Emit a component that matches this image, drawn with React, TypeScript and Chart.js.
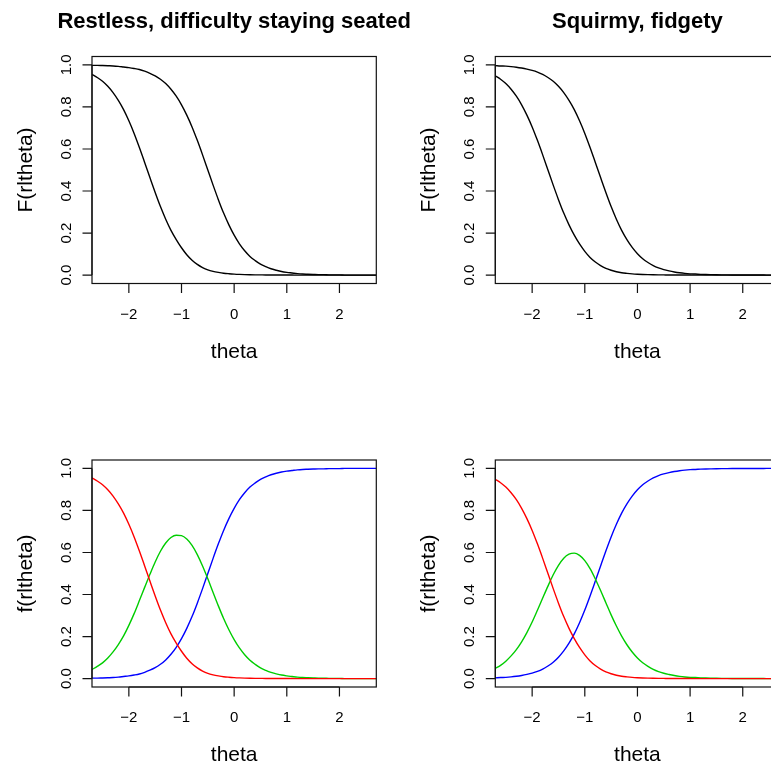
import React, { useEffect, useRef } from "react";
import { Chart, registerables } from "chart.js";

Chart.register(...registerables);

// theta grid (x values)
const theta = [
  -2.7, -2.6, -2.5, -2.4, -2.3, -2.2, -2.1, -2.0, -1.9, -1.8, -1.7, -1.6, -1.5, -1.4,
  -1.3, -1.2, -1.1, -1.0, -0.9, -0.8, -0.7, -0.6, -0.5, -0.4, -0.3, -0.2, -0.1, 0.0,
  0.1, 0.2, 0.3, 0.4, 0.5, 0.6, 0.7, 0.8, 0.9, 1.0, 1.1, 1.2, 1.3, 1.4, 1.5, 1.6,
  1.7, 1.8, 1.9, 2.0, 2.1, 2.2, 2.3, 2.4, 2.5, 2.6, 2.7,
];

// "Restless, difficulty staying seated": cumulative curves F(r|theta)
const restlessF0 = [
  0.955, 0.94, 0.922, 0.898, 0.868, 0.831, 0.787, 0.734, 0.674, 0.607, 0.536, 0.464, 0.393, 0.326,
  0.266, 0.213, 0.169, 0.13, 0.097, 0.071, 0.051, 0.036, 0.025, 0.018, 0.013, 0.009, 0.0065, 0.0046,
  0.0033, 0.0024, 0.0017, 0.0012, 0.0009, 0.0006, 0.0004, 0.0003, 0.0002, 0.0001, 0.0001, 0, 0, 0, 0, 0,
  0, 0, 0, 0, 0, 0, 0, 0, 0, 0, 0,
];
const restlessF1 = [
  0.998, 0.998, 0.997, 0.996, 0.995, 0.993, 0.99, 0.987, 0.983, 0.978, 0.97, 0.96, 0.948, 0.932,
  0.911, 0.884, 0.851, 0.81, 0.761, 0.705, 0.641, 0.572, 0.5, 0.428, 0.359, 0.295, 0.239, 0.19,
  0.149, 0.116, 0.089, 0.069, 0.052, 0.04, 0.03, 0.023, 0.017, 0.013, 0.01, 0.007, 0.005, 0.004, 0.003, 0.002,
  0.002, 0.001, 0.001, 0.001, 0, 0, 0, 0, 0, 0, 0,
];

// "Squirmy, fidgety": cumulative curves F(r|theta)
const squirmyF0 = [
  0.948, 0.932, 0.911, 0.884, 0.851, 0.81, 0.761, 0.705, 0.641, 0.572, 0.5, 0.428, 0.359, 0.295,
  0.239, 0.19, 0.148, 0.113, 0.084, 0.062, 0.045, 0.032, 0.023, 0.016, 0.011, 0.008, 0.0056, 0.004,
  0.0029, 0.0021, 0.0015, 0.0011, 0.0008, 0.0005, 0.0004, 0.0003, 0.0002, 0.0001, 0, 0, 0, 0, 0, 0,
  0, 0, 0, 0, 0, 0, 0, 0, 0, 0, 0,
];
const squirmyF1 = [
  0.9965, 0.995, 0.994, 0.992, 0.989, 0.985, 0.98, 0.974, 0.966, 0.955, 0.94, 0.922, 0.898, 0.868,
  0.831, 0.787, 0.734, 0.674, 0.607, 0.536, 0.464, 0.393, 0.326, 0.266, 0.213, 0.169, 0.132, 0.102,
  0.078, 0.06, 0.045, 0.034, 0.026, 0.02, 0.015, 0.011, 0.008, 0.006, 0.005, 0.0035, 0.0026, 0.002, 0.0015, 0.0011,
  0.0008, 0.0006, 0.0004, 0.0003, 0.0002, 0.0002, 0.0001, 0.0001, 0, 0, 0,
];

const xTicks = [-2, -1, 0, 1, 2];
const xTickLabels = ["\u22122", "\u22121", "0", "1", "2"];
const yTicks = [0, 0.2, 0.4, 0.6, 0.8, 1.0];
const yTickLabels = ["0.0", "0.2", "0.4", "0.6", "0.8", "1.0"];

const titles = ["Restless, difficulty staying seated", "Squirmy, fidgety"];
const xLabel = "theta";
const yLabelTop = "F(rltheta)";
const yLabelBottom = "f(rltheta)";

const FONT = "'Liberation Sans', Arial, Helvetica, sans-serif";
const CW = 800;
const CH = 768;

const rAxesPlugin = {
  id: "rAxes",
  afterDraw(chart: any, _args: any, opts: any) {
    const { ctx, chartArea, scales } = chart;
    const { left, right, top, bottom } = chartArea;
    const x = scales.x;
    const y = scales.y;
    ctx.save();
    ctx.strokeStyle = "#111";
    ctx.lineWidth = 1.2;
    ctx.strokeRect(left, top, right - left, bottom - top);

    // x axis
    ctx.beginPath();
    ctx.moveTo(x.getPixelForValue(xTicks[0]), bottom);
    ctx.lineTo(x.getPixelForValue(xTicks[xTicks.length - 1]), bottom);
    xTicks.forEach((t) => {
      const px = x.getPixelForValue(t);
      ctx.moveTo(px, bottom);
      ctx.lineTo(px, bottom + 9.5);
    });
    // y axis
    ctx.moveTo(left, y.getPixelForValue(yTicks[0]));
    ctx.lineTo(left, y.getPixelForValue(yTicks[yTicks.length - 1]));
    yTicks.forEach((t) => {
      const py = y.getPixelForValue(t);
      ctx.moveTo(left, py);
      ctx.lineTo(left - 9.5, py);
    });
    ctx.stroke();

    ctx.fillStyle = "#000";
    ctx.font = `15px ${FONT}`;
    ctx.textAlign = "center";
    ctx.textBaseline = "middle";
    xTicks.forEach((t, i) => {
      ctx.fillText(xTickLabels[i], x.getPixelForValue(t), bottom + 31);
    });
    yTicks.forEach((t, i) => {
      ctx.save();
      ctx.translate(left - 25, y.getPixelForValue(t));
      ctx.rotate(-Math.PI / 2);
      ctx.fillText(yTickLabels[i], 0, 0);
      ctx.restore();
    });

    // axis titles
    ctx.font = `21px ${FONT}`;
    ctx.textBaseline = "alphabetic";
    ctx.fillText(opts.xlab, (left + right) / 2, bottom + 74);
    ctx.save();
    ctx.translate(left - 60.5, (top + bottom) / 2);
    ctx.rotate(-Math.PI / 2);
    ctx.fillText(opts.ylab, 0, 0);
    ctx.restore();

    if (opts.title) {
      ctx.font = `bold 22px ${FONT}`;
      ctx.fillText(opts.title, (left + right) / 2, 27.5);
    }
    ctx.restore();
  },
};

type PanelProps = {
  box: { left: number; right: number; top: number; bottom: number };
  title?: string;
  ylab: string;
  series: { values: number[]; color: string }[];
};

function Panel({ box, title, ylab, series }: PanelProps) {
  const ref = useRef<HTMLCanvasElement | null>(null);
  useEffect(() => {
    if (!ref.current) return;
    const chart = new Chart(ref.current, {
      type: "line",
      data: {
        datasets: series.map((s) => ({
          data: theta.map((t, i) => ({ x: t, y: s.values[i] })),
          borderColor: s.color,
          borderWidth: 1.4,
          pointRadius: 0,
          fill: false,
          cubicInterpolationMode: "monotone" as const,
        })),
      },
      options: {
        responsive: false,
        animation: false,
        devicePixelRatio: 1,
        layout: {
          padding: {
            left: box.left,
            top: box.top,
            right: CW - box.right,
            bottom: CH - box.bottom,
          },
        },
        scales: {
          x: { type: "linear", min: -2.7, max: 2.7, display: false },
          y: { type: "linear", min: -0.04, max: 1.04, display: false },
        },
        plugins: {
          legend: { display: false },
          tooltip: { enabled: false },
          rAxes: { title, ylab, xlab: xLabel },
        } as any,
      },
      plugins: [rAxesPlugin],
    });
    return () => chart.destroy();
  }, []);
  return (
    <canvas
      ref={ref}
      width={CW}
      height={CH}
      style={{ position: "absolute", left: 0, top: 0, width: CW, height: CH }}
    />
  );
}

export default function App() {
  const leftBox = { left: 92, right: 376.3 };
  const rightBox = { left: 495.3, right: 779.6 };
  const topRow = { top: 56.5, bottom: 283.5 };
  const bottomRow = { top: 460, bottom: 687 };
  const restlessCat = {
    red: restlessF0,
    green: restlessF1.map((v, i) => v - restlessF0[i]),
    blue: restlessF1.map((v) => 1 - v),
  };
  const squirmyCat = {
    red: squirmyF0,
    green: squirmyF1.map((v, i) => v - squirmyF0[i]),
    blue: squirmyF1.map((v) => 1 - v),
  };
  return (
    <div
      style={{
        position: "absolute",
        left: 0,
        top: 0,
        width: 771,
        height: 768,
        overflow: "hidden",
        background: "#fff",
      }}
    >
      <Panel
        box={{ ...leftBox, ...topRow }}
        title={titles[0]}
        ylab={yLabelTop}
        series={[
          { values: restlessF0, color: "#000" },
          { values: restlessF1, color: "#000" },
        ]}
      />
      <Panel
        box={{ ...rightBox, ...topRow }}
        title={titles[1]}
        ylab={yLabelTop}
        series={[
          { values: squirmyF0, color: "#000" },
          { values: squirmyF1, color: "#000" },
        ]}
      />
      <Panel
        box={{ ...leftBox, ...bottomRow }}
        ylab={yLabelBottom}
        series={[
          { values: restlessCat.red, color: "#FF0000" },
          { values: restlessCat.green, color: "#00CD00" },
          { values: restlessCat.blue, color: "#0000FF" },
        ]}
      />
      <Panel
        box={{ ...rightBox, ...bottomRow }}
        ylab={yLabelBottom}
        series={[
          { values: squirmyCat.red, color: "#FF0000" },
          { values: squirmyCat.green, color: "#00CD00" },
          { values: squirmyCat.blue, color: "#0000FF" },
        ]}
      />
    </div>
  );
}
